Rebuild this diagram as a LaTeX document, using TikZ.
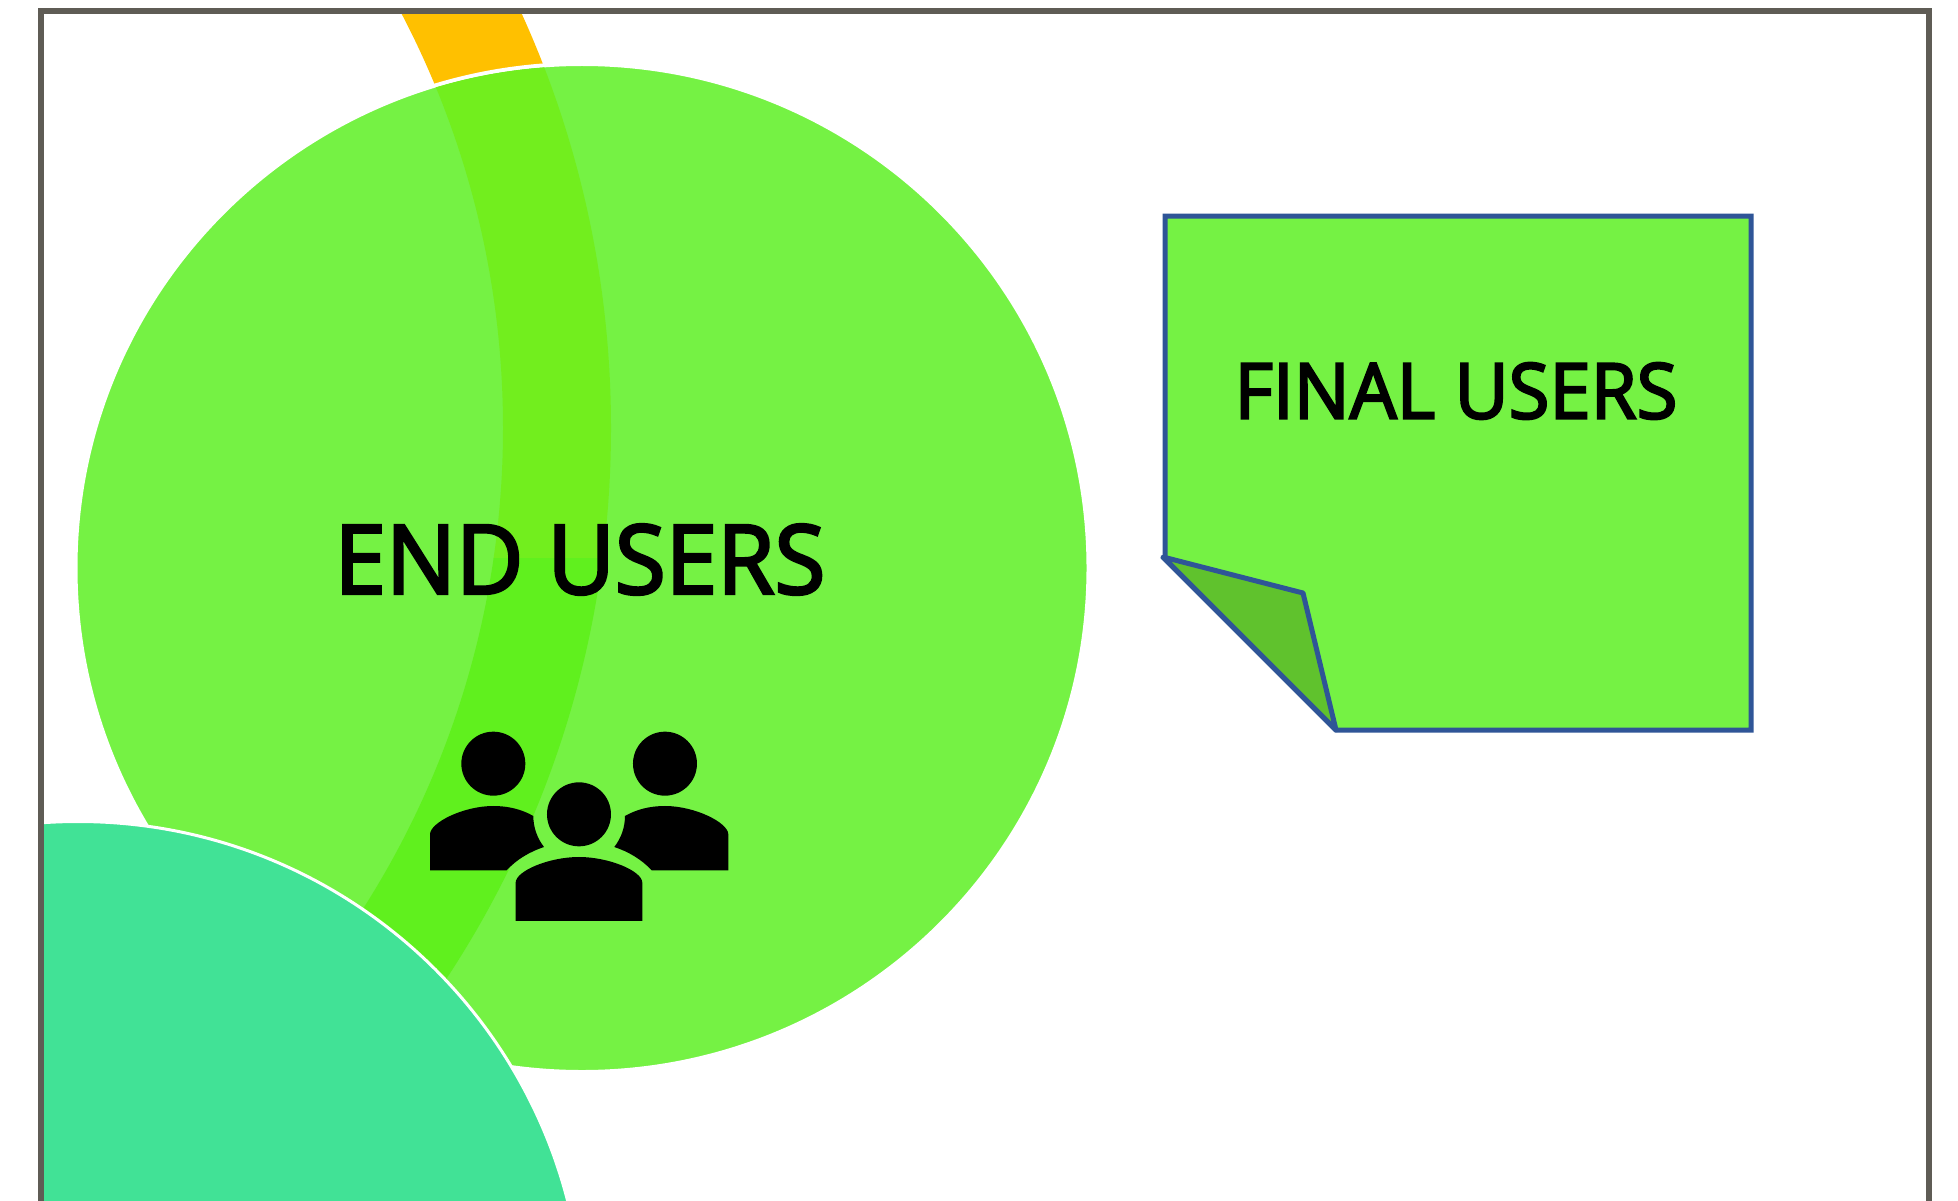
\documentclass[tikz,border=0pt]{standalone}
\usepackage{fontspec}
\setmainfont{Open Sans}
\newfontfamily\labelfont[FakeStretch=0.965,FakeBold=3]{Open Sans}
\definecolor{myorange}{HTML}{FFC000}
\definecolor{mygreen}{HTML}{75F244}
\definecolor{bandtop}{HTML}{72EE1E}
\definecolor{bandbot}{HTML}{60F01E}
\definecolor{myteal}{HTML}{41E296}
\definecolor{myframe}{HTML}{5F5C55}
\definecolor{noteline}{HTML}{2F5597}
\definecolor{foldgreen}{HTML}{60C22D}
\begin{document}
\begin{tikzpicture}[x=1pt,y=-1pt,
  label text/.style={inner sep=0pt,text=black},
  icon/.style={fill=black,draw=none}]
\useasboundingbox (0,0) rectangle (1958,1201);
\fill[white] (0,0) rectangle (1958,1201);
\begin{scope}
\clip (41,11) rectangle (1929,1201);
% orange band
\fill[myorange,even odd rule] (-392,428) circle[radius=1003] (-392,428) circle[radius=895];
% green circle
\fill[mygreen,draw=white,line width=4pt] (582,568) ellipse[x radius=506.5,y radius=504];
\begin{scope}
\clip (582,568) ellipse[x radius=504.5,y radius=502];
\begin{scope}
\clip (0,0) rectangle (1000,558);
\fill[bandtop,even odd rule] (-392,428) circle[radius=1003] (-392,428) circle[radius=895];
\end{scope}
\begin{scope}
\clip (0,558) rectangle (1000,1201);
\fill[bandbot,even odd rule] (-392,428) circle[radius=1003] (-392,428) circle[radius=895];
\end{scope}
\end{scope}
% teal circle
\fill[myteal,draw=white,line width=3pt] (78,1327) circle[radius=505.5];
\end{scope}
\draw[myframe,line width=5.5pt] (41,1210) -- (41,11) -- (1929,11) -- (1929,1210);
\node[label text,font=\labelfont\fontsize{96}{110}\selectfont] (endusers) at (580,559.5) {END USERS};
% icon
\begin{scope}[shift={(400,701)},x=0.3333pt,y=-0.3333pt]
\fill[icon] (280,188) circle[radius=96];
\fill[icon] (795,188) circle[radius=96];
\fill[icon] (537,340) circle[radius=96];
\fill[icon] (90,508) -- (90,400) .. controls (90,365) and (190,315) .. (280,315) .. controls (325,315) and (365,325) .. (400,345) .. controls (400,380) and (412,412) .. (432,438) .. controls (390,452) and (350,475) .. (320,508) -- cycle;
\fill[icon] (985,508) -- (985,400) .. controls (985,365) and (885,315) .. (795,315) .. controls (750,315) and (710,325) .. (675,345) .. controls (675,380) and (663,412) .. (643,438) .. controls (685,452) and (725,475) .. (755,508) -- cycle;
\fill[icon] (347,660) -- (347,545) .. controls (347,510) and (447,468) .. (537,468) .. controls (627,468) and (727,510) .. (727,545) -- (727,660) -- cycle;
\end{scope}
% note
\draw[fill=mygreen,draw=noteline,line width=5pt,line join=miter] (1165,558) -- (1165,216) -- (1751,216) -- (1751,730) -- (1336,730) -- (1162,556);
\draw[fill=foldgreen,draw=noteline,line width=5pt,line join=round] (1163,557) -- (1303,593) -- (1336,730) -- cycle;
\node[label text,font=\labelfont\fontsize{77}{90}\selectfont] (finalusers) at (1456,391) {FINAL USERS};
\end{tikzpicture}
\end{document}
